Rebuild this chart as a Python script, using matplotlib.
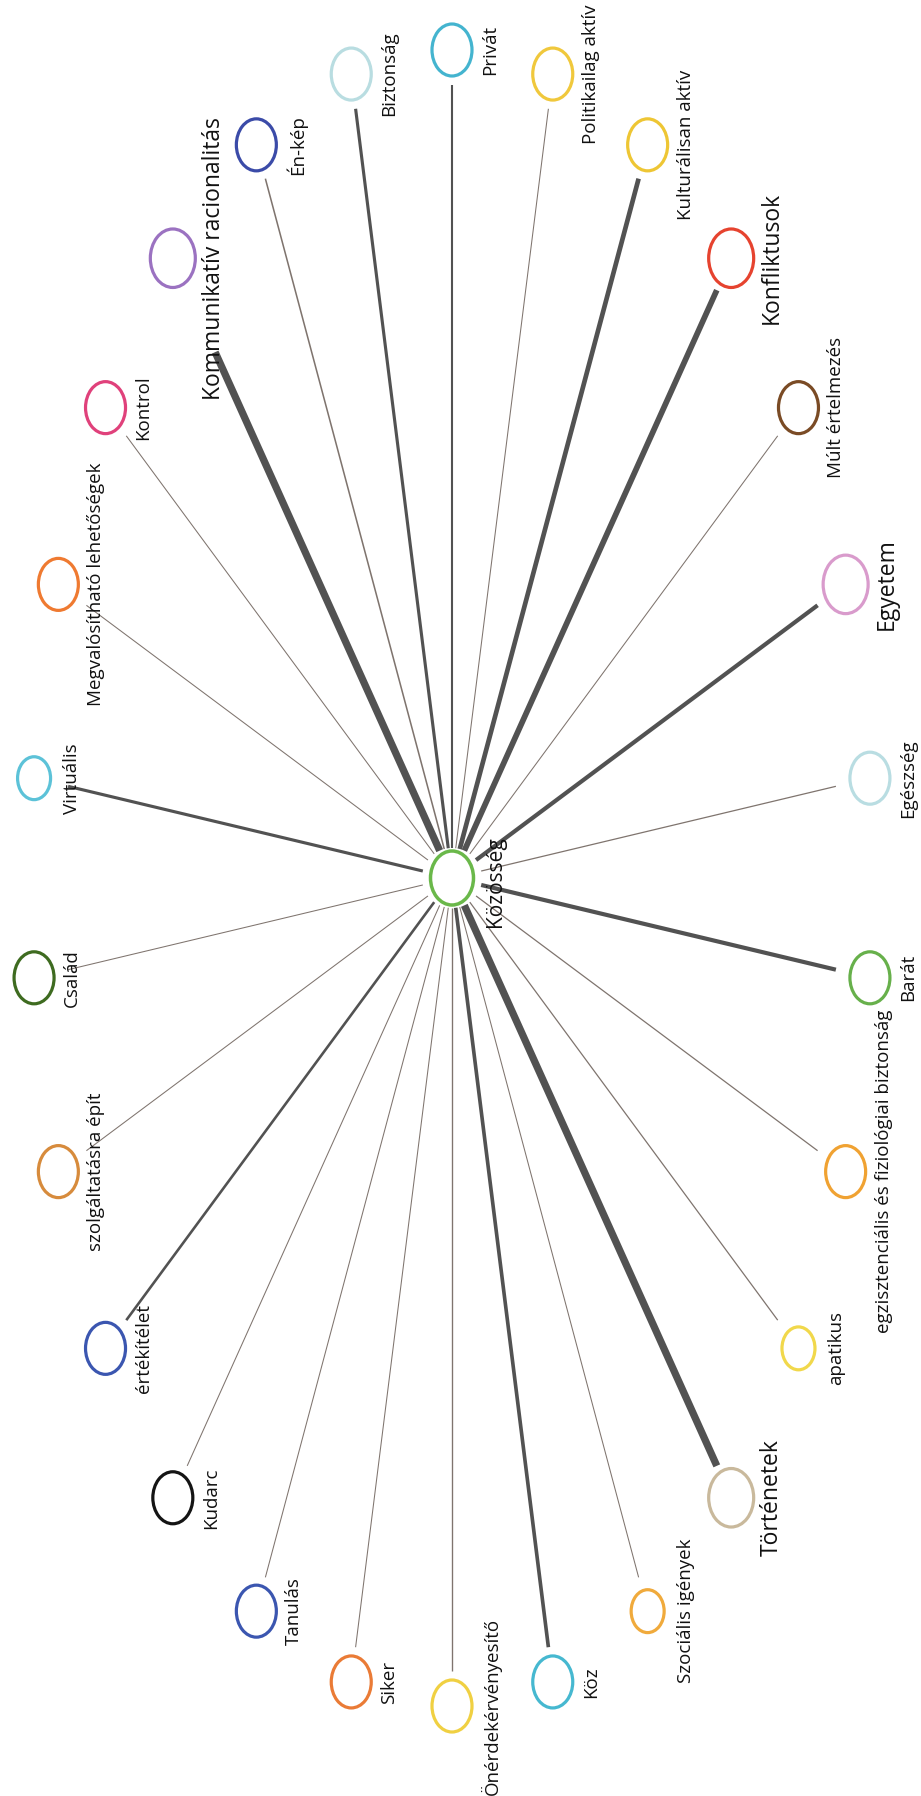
import numpy as np
import matplotlib.pyplot as plt
from matplotlib.patches import Ellipse

plt.rcParams['font.family'] = ['Open Sans', 'DejaVu Sans']

# Nodes around the hub, clockwise starting from the top
labels = ["Privát", "Politikailag aktív", "Kulturálisan aktív", "Konfliktusok",
          "Múlt értelmezés", "Egyetem", "Egészség", "Barát",
          "egzisztenciális és fiziológiai biztonság", "apatikus", "Történetek",
          "Szociális igények", "Köz", "Önérdekérvényesítő", "Siker", "Tanulás",
          "Kudarc", "értékítélet", "szolgáltatásra épít", "Család", "Virtuális",
          "Megvalósítható lehetőségek", "Kontrol", "Kommunikatív racionalitás",
          "Én-kép", "Biztonság"]
colors = ["#44b4cf", "#f0c83c", "#eec634", "#e6432f",
          "#7a4b25", "#d99bcc", "#b9dde2", "#67b04b",
          "#f0a232", "#f1d84b", "#c9b99c",
          "#f0aa3c", "#46b8d0", "#f0d042", "#ea7b36", "#3b56b0",
          "#141414", "#3b56b0", "#d78b3c", "#3e6b20", "#5cc2d8",
          "#ef7a31", "#e0417b", "#9b72c1",
          "#3b4ba8", "#b9dde1"]
# edge strength to the hub
weights = [2, 1, 4.5, 5.5,
           1, 4, 1.2, 4,
           1.2, 1.2, 7,
           1, 3.5, 1.3, 1, 1,
           1, 2.5, 1, 1, 3,
           1, 1, 7,
           1.5, 3]
big = ["Konfliktusok", "Egyetem", "Történetek", "Kommunikatív racionalitás"]
small_nodes = ["Virtuális", "apatikus", "Szociális igények"]

hub = "Közösség"
hub_color = "#6ab84a"

W, H = 921, 1796
cx, cy = 452, 878
rx, ry = 421, 828

fig = plt.figure(figsize=(W / 100, H / 100), dpi=100)
ax = fig.add_axes([0, 0, 1, 1])
ax.set_xlim(0, W)
ax.set_ylim(H, 0)
ax.axis('off')

n = len(labels)
ang = np.deg2rad(90 - np.arange(n) * 360 / n)
xs = cx + rx * np.cos(ang)
ys = cy - ry * np.sin(ang)

# edges
for i in range(n):
    dx, dy = xs[i] - cx, ys[i] - cy
    d = np.hypot(dx, dy)
    gap_end = 103 if labels[i] == "Kommunikatív racionalitás" else 35
    x0, y0 = cx + dx / d * 30, cy + dy / d * 30
    x1, y1 = xs[i] - dx / d * gap_end, ys[i] - dy / d * gap_end
    w = weights[i]
    col = "#525252" if w >= 2 else "#7f746e"
    ax.plot([x0, x1], [y0, y1], color=col, lw=w * 0.75,
            solid_capstyle='butt', zorder=1)

# nodes + labels
for i in range(n):
    lab = labels[i]
    if lab in big:
        w, fs = 45, 16.5
    elif lab in small_nodes:
        w, fs = 33, 13.5
    else:
        w, fs = 40, 13.5
    ax.add_patch(Ellipse((xs[i], ys[i]), w, w * 1.3, facecolor='white',
                         edgecolor=colors[i], lw=2.3, zorder=2))
    ax.text(xs[i] + 29, ys[i], lab, rotation=90, ha='left', va='center',
            fontsize=fs, color='#111111', zorder=3)

ax.add_patch(Ellipse((cx, cy), 43, 54, facecolor='white',
                     edgecolor=hub_color, lw=2.5, zorder=2))
ax.text(cx + 33, cy + 4, hub, rotation=90, ha='left', va='center',
        fontsize=15, color='#111111', zorder=3)

fig.savefig("out.png", dpi=100, facecolor='white')
